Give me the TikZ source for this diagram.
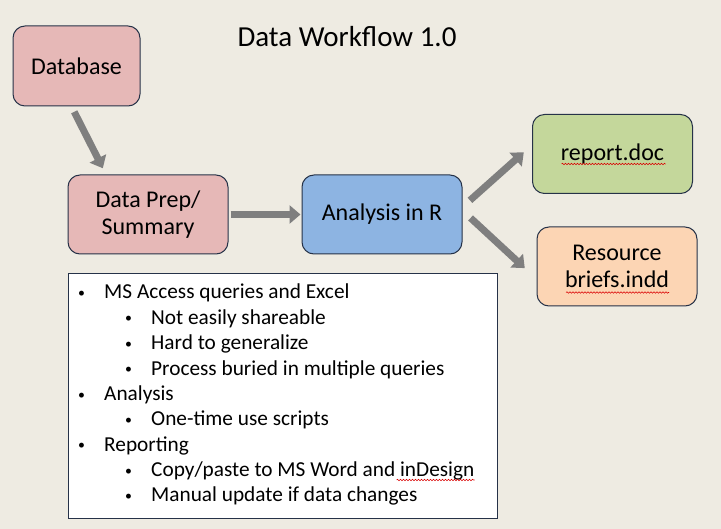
\documentclass[tikz,border=0pt]{standalone}
\usepackage{fontspec}
\setmainfont{Carlito}
\usetikzlibrary{arrows.meta,calc,decorations.pathmorphing}

\definecolor{bgcol}{RGB}{238,235,226}
\definecolor{edgecol}{RGB}{38,50,72}
\definecolor{flowgray}{RGB}{127,127,127}
\definecolor{dbpink}{RGB}{230,184,183}
\definecolor{anblue}{RGB}{141,180,226}
\definecolor{repgreen}{RGB}{196,215,155}
\definecolor{respeach}{RGB}{252,213,180}

\newcommand\bul{\makebox[26pt][l]{\raisebox{1.5pt}{\scalebox{0.65}{•}}}}

\begin{document}
\begin{tikzpicture}[x=1pt,y=-1pt,
  box/.style={draw=edgecol,line width=1pt,rounded corners=12pt,minimum width=160pt,minimum height=79pt,align=center,font=\fontsize{24}{27}\selectfont},
  flow/.style={draw=flowgray,line width=7pt,-{Triangle[length=11pt,width=18pt]}},
  squig/.style={draw=red!85!black,line width=0.6pt,decorate,decoration={snake,amplitude=0.7pt,segment length=3pt}},
  lvlone/.style={anchor=base west,inner sep=0pt,font=\fontsize{21.3}{25}\selectfont},
  lvltwo/.style={lvlone}]
		%background
		\fill[bgcol] (0,0) rectangle (721,529);
		\node[anchor=base,font=\fontsize{29}{34}\selectfont] (title) at (347,47) {Data Workflow 1.0};
		%boxes of the workflow
		\node[box,fill=dbpink,minimum width=127pt,minimum height=80pt] (db) at (76.5,66) {Database};
		\node[box,fill=dbpink] (prep) at (148,214.5) {Data Prep/\\Summary};
		\node[box,fill=anblue] (ana) at (382,214.5) {Analysis in R};
		\node[box,fill=repgreen] (rep) at (612.5,154) {report.doc};
		\node[box,fill=respeach] (res) at (617,266.5) {Resource\\briefs.indd};
		%arrows
		\draw[flow,shorten <=6pt,shorten >=7pt] ([xshift=-5pt]db.south) -- ([xshift=-42pt]prep.north);
		\draw[flow,shorten <=2pt,shorten >=1pt] (prep.east) -- (ana.west);
		\draw[flow,shorten <=10pt,shorten >=11pt] ([yshift=7.5pt]ana.east) -- ([yshift=9pt]rep.west);
		\draw[flow,shorten <=11pt,shorten >=16pt] ([yshift=4pt]ana.east) -- ([yshift=-12.5pt]res.west);
		%notes box
		\node[draw=edgecol,fill=white,line width=1pt,minimum width=429pt,minimum height=244pt] (notes) at (282.5,396) {};
		\node[lvlone] (l1) at (78,299) {\bul MS Access queries and Excel};
		\node[lvltwo] (l2) at (125,324.5) {\bul Not easily shareable};
		\node[lvltwo] (l3) at (125,350) {\bul Hard to generalize};
		\node[lvltwo] (l4) at (125,375.5) {\bul Process buried in multiple queries};
		\node[lvlone] (l5) at (78,401) {\bul Analysis};
		\node[lvltwo] (l6) at (125,426) {\bul One-time use scripts};
		\node[lvlone] (l7) at (78,451.5) {\bul Reporting};
		\node[lvltwo] (cp) at (125,477) {\bul Copy/paste to MS Word and inDesign};
		\node[lvltwo] (l9) at (125,502) {\bul Manual update if data changes};
		%spelling marks
		\draw[squig] ([xshift=-51pt,yshift=-10pt]rep.center) -- ([xshift=53pt,yshift=-10pt]rep.center);
		\draw[squig] ([xshift=-51pt,yshift=-26pt]res.center) -- ([xshift=52pt,yshift=-26pt]res.center);
		\draw[squig] ([xshift=-78pt,yshift=-3pt]cp.base east) -- ([yshift=-3pt]cp.base east);
\end{tikzpicture}
\end{document}
